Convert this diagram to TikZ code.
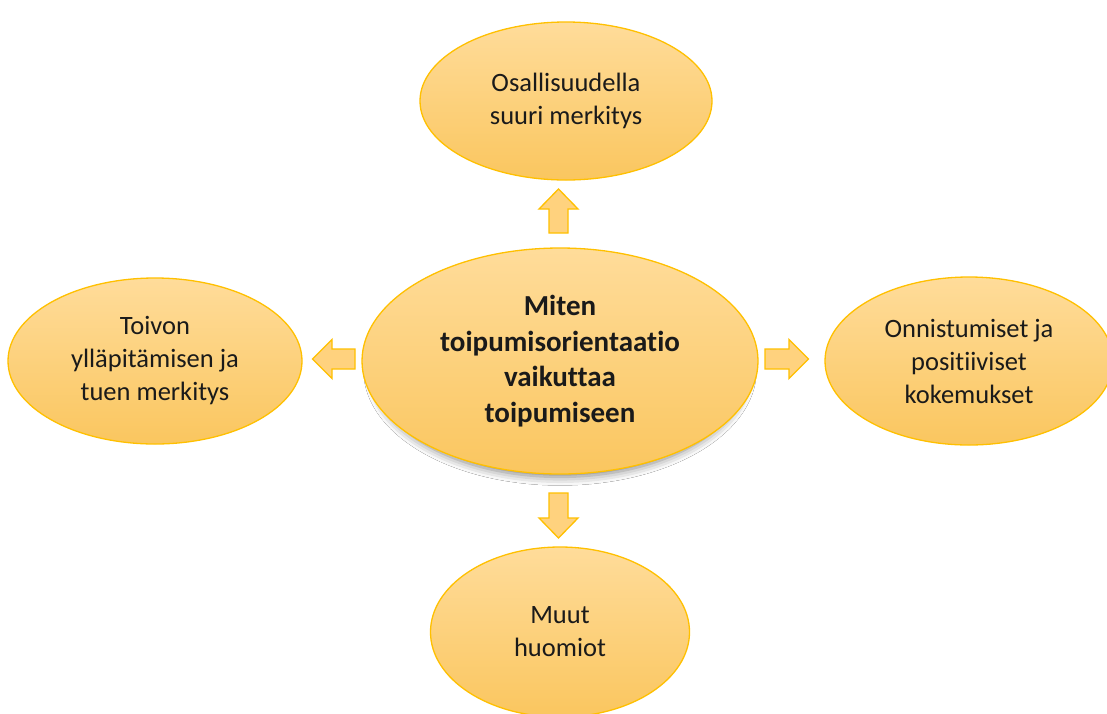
\documentclass[tikz,border=0pt]{standalone}
\usepackage{fontspec}
\setmainfont{Carlito}[RawFeature={-liga;-clig;-calt;-dlig;-rlig}]
\usetikzlibrary{shapes.geometric,shadows.blur}
\definecolor{ellfilltop}{HTML}{FFDC9A}
\definecolor{ellfillbot}{HTML}{FAC65F}
\definecolor{golddraw}{HTML}{FFC000}
\definecolor{arrfill}{HTML}{FFD27E}
\definecolor{txt}{HTML}{1A1A1A}
\tikzset{
  bubble/.style={ellipse, draw=golddraw, line width=1.3pt, top color=ellfilltop, bottom color=ellfillbot,
    inner sep=0pt, align=center, text=txt, font=\fontsize{26.5}{33}\selectfont},
  mainbubble/.style={bubble, font=\bfseries\fontsize{29}{35.5}\selectfont,
    blur shadow={shadow xshift=0pt, shadow yshift=-9pt, shadow scale=0.95, shadow opacity=50, shadow blur radius=9pt}},
  blockarrow/.style={draw=golddraw, fill=arrfill, line width=1.3pt, line join=miter}
}
\begin{document}
\begin{tikzpicture}[x=1pt,y=-1pt]
\clip (0,0) rectangle (1107,713);
\fill[white] (0,0) rectangle (1107,713);
\node[mainbubble, minimum width=396pt, minimum height=226pt] (c) at (560,361)
  {Miten\\toipumisorientaatio\\vaikuttaa\\toipumiseen};
\node[bubble, minimum width=292pt, minimum height=158pt] (t) at (566,101)
  {Osallisuudella\\suuri merkitys};
\node[bubble, minimum width=294pt, minimum height=166pt] (l) at (155,361)
  {Toivon\\ylläpitämisen ja\\tuen merkitys};
\node[bubble, minimum width=288pt, minimum height=168pt] (r) at (969,361)
  {Onnistumiset ja\\positiiviset\\kokemukset};
\node[bubble, minimum width=259pt, minimum height=170pt] (b) at (560,632)
  {Muut\\huomiot};
% block arrows
\coordinate (au) at (558.5,233);
\draw[blockarrow] (au) ++(-9.5,0) -- ++(0,-24) -- ++(-10,0) -- ++(19.5,-20) -- ++(19.5,20) -- ++(-10,0) -- ++(0,24) -- cycle;
\coordinate (ad) at (558.5,493);
\draw[blockarrow] (ad) ++(-9.5,0) -- ++(0,25) -- ++(-10,0) -- ++(19.5,20) -- ++(19.5,-20) -- ++(-10,0) -- ++(0,-25) -- cycle;
\coordinate (al) at (355,359);
\draw[blockarrow] (al) ++(0,-10) -- ++(-23,0) -- ++(0,-9.5) -- ++(-19.5,19.5) -- ++(19.5,19.5) -- ++(0,-9.5) -- ++(23,0) -- cycle;
\coordinate (ar) at (765,359);
\draw[blockarrow] (ar) ++(0,-10) -- ++(24,0) -- ++(0,-9.5) -- ++(19.5,19.5) -- ++(-19.5,19.5) -- ++(0,-9.5) -- ++(-24,0) -- cycle;
\end{tikzpicture}
\end{document}
